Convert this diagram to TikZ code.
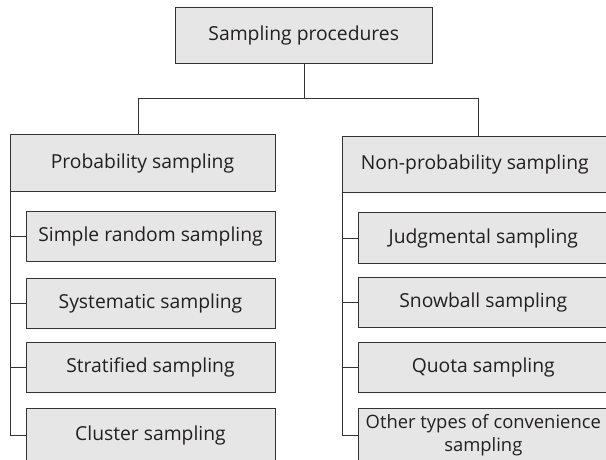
\documentclass[tikz,border=0pt]{standalone}
\usepackage{fontspec}
\setmainfont{Open Sans}
\definecolor{boxfill}{HTML}{E6E6E7}
\definecolor{boxline}{HTML}{333333}
\definecolor{txt}{HTML}{231F20}
\tikzset{
  box/.style={draw=boxline, fill=boxfill, line width=1pt, inner sep=0pt, text=txt, font=\fontsize{19.3}{23}\selectfont, align=center},
  conn/.style={draw=boxline, line width=1pt},
}
\begin{document}
\begin{tikzpicture}[x=1pt,y=-1pt]
\useasboundingbox (0,0) rectangle (606,460);
\clip (0,0) rectangle (606,460);
% top
\node[box, minimum width=257pt, minimum height=56pt] (top) at (303.7,35.3) {Sampling procedures};
% level 2
\node[box, minimum width=265pt, minimum height=56pt] (prob) at (142.5,163) {Probability sampling};
\node[box, minimum width=265pt, minimum height=56.3pt] (nonp) at (474.8,164.2) {Non-probability sampling};
% left children
\node[box, minimum width=249pt, minimum height=50pt] (l1) at (150.5,236.7) {Simple random sampling};
\node[box, minimum width=249pt, minimum height=50pt] (l2) at (150.5,303.8) {Systematic sampling};
\node[box, minimum width=249pt, minimum height=50pt] (l3) at (150.5,367.7) {Stratified sampling};
\node[box, minimum width=249pt, minimum height=55pt] (l4) at (150.5,435.5) {Cluster sampling};
% right children
\node[box, minimum width=250pt, minimum height=50.6pt] (r1) at (483.3,238) {Judgmental sampling};
\node[box, minimum width=250pt, minimum height=50pt] (r2) at (483.3,302.3) {Snowball sampling};
\node[box, minimum width=250pt, minimum height=50pt] (r3) at (483.3,367.3) {Quota sampling};
\node[box, minimum width=250pt, minimum height=55pt, font=\fontsize{18.4}{23}\selectfont] (r4) at (483.3,435.5) {Other types of convenience\\sampling};
% connectors top
\coordinate (jn) at (304,99);
\draw[conn] (top.south -| jn) -- (jn);
\draw[conn] (jn) -| ([xshift=-4.2pt]prob.north);
\draw[conn] (jn) -| ([xshift=3.2pt]nonp.north);
% left spine
\coordinate (ls) at (10.5,435.5);
\draw[conn] (ls |- prob.south) -- (ls);
\foreach \n in {l1,l2,l3,l4} \draw[conn] (\n.west) -- (\n.west -| ls);
% right spine
\coordinate (rs) at (342.6,435.5);
\draw[conn] (rs |- nonp.south) -- (rs);
\foreach \n in {r1,r2,r3,r4} \draw[conn] (\n.west) -- (\n.west -| rs);
\end{tikzpicture}
\end{document}
